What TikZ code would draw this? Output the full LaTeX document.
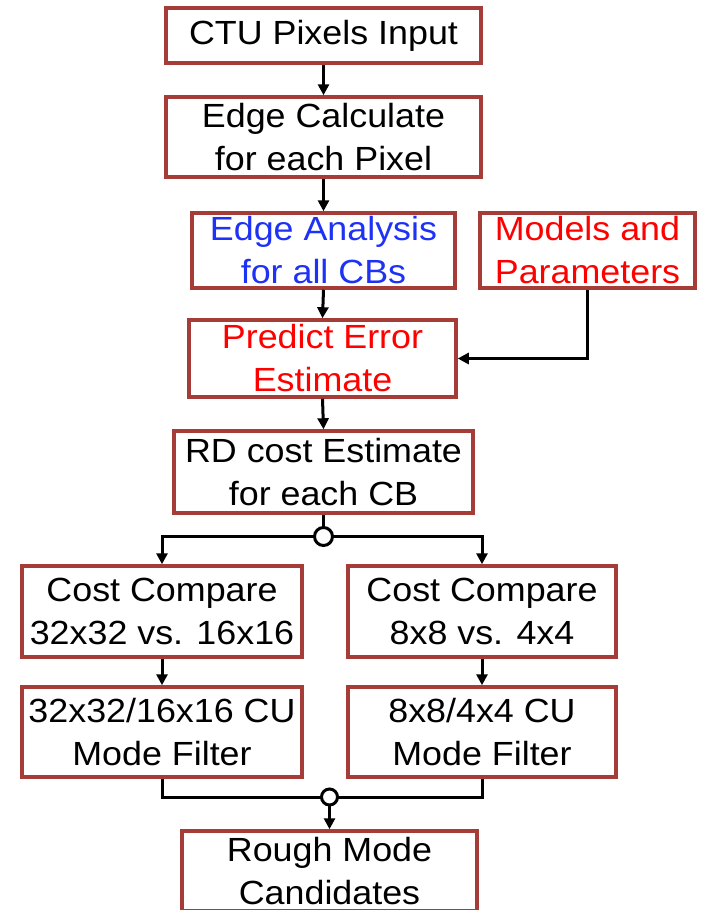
\documentclass[tikz,border=0pt]{standalone}
\usepackage{fontspec}
\setmainfont{Liberation Sans}[FakeStretch=1.07]
\usetikzlibrary{arrows.meta}
\definecolor{boxred}{RGB}{165,60,55}
\definecolor{txtblue}{RGB}{30,50,245}
\definecolor{txtred}{RGB}{255,0,0}
\tikzset{
  blk/.style={draw=boxred, line width=3.5pt, fill=white, inner sep=0pt,
    align=center, font=\fontsize{33.5}{43}\selectfont},
  conn/.style={line width=3pt, -{Triangle[length=11pt,width=11pt]}},
  plain/.style={line width=3pt},
  junc/.style={circle, draw, line width=3pt, fill=white, inner sep=0pt}
}
\begin{document}
\begin{tikzpicture}[x=1pt,y=-1pt]
\useasboundingbox (0,0) rectangle (702,910);
\clip (0,0) rectangle (702,910);
\node[blk, minimum width=315pt, minimum height=55pt] (b1) at (323.5,35.5) {CTU Pixels Input};
\node[blk, minimum width=315pt, minimum height=80pt] (b2) at (323.5,137) {Edge Calculate\\for each Pixel};
\node[blk, minimum width=263pt, minimum height=75pt, text=txtblue] (b3) at (323.5,250.5) {Edge Analysis\\for all CBs};
\node[blk, minimum width=215pt, minimum height=75pt, text=txtred] (b4) at (587.5,250.5) {Models and\\Parameters};
\node[blk, minimum width=267pt, minimum height=77pt, text=txtred] (b5) at (322.5,358.5) {Predict Error\\Estimate};
\node[blk, minimum width=299pt, minimum height=82pt] (b6) at (323.5,472) {RD cost Estimate\\for each CB};
\node[blk, minimum width=280pt, minimum height=91pt] (b7) at (162,611.5) {Cost Compare\\32x32 vs. 16x16};
\node[blk, minimum width=268pt, minimum height=91pt] (b8) at (482,611.5) {Cost Compare\\8x8 vs. 4x4};
\node[blk, minimum width=280pt, minimum height=90pt] (b9) at (162,732) {32x32/16x16 CU\\Mode Filter};
\node[blk, minimum width=268pt, minimum height=90pt] (b10) at (482,732) {8x8/4x4 CU\\Mode Filter};
\node[blk, minimum width=295pt, minimum height=80pt] (b11) at (329.5,871) {Rough Mode\\Candidates};
% connectors
\draw[conn] (b1.south) -- (b2.north);
\draw[conn] (b2.south) -- (b3.north);
\draw[conn] (b3.south) -- (b5.north);
\draw[conn] (b4.south) |- (b5.east);
\draw[conn] (b5.south) -- (b6.north);
\draw[conn] (b7.south) -- (b9.north);
\draw[conn] (b8.south) -- (b10.north);
% split
\coordinate (s1) at (323.5,536.5);
\draw[conn] (s1) -| (b7.north);
\draw[conn] (s1) -| (b8.north);
\draw[plain] (b6.south) -- (s1);
\node[junc, minimum size=18pt] (j1) at (s1) {};
% merge
\coordinate (s2) at (329.5,797);
\draw[plain] (b9.south) |- (s2);
\draw[plain] (b10.south) |- (s2);
\draw[conn] (s2) -- (b11.north);
\node[junc, minimum size=16pt] (j2) at (s2) {};
\end{tikzpicture}
\end{document}
